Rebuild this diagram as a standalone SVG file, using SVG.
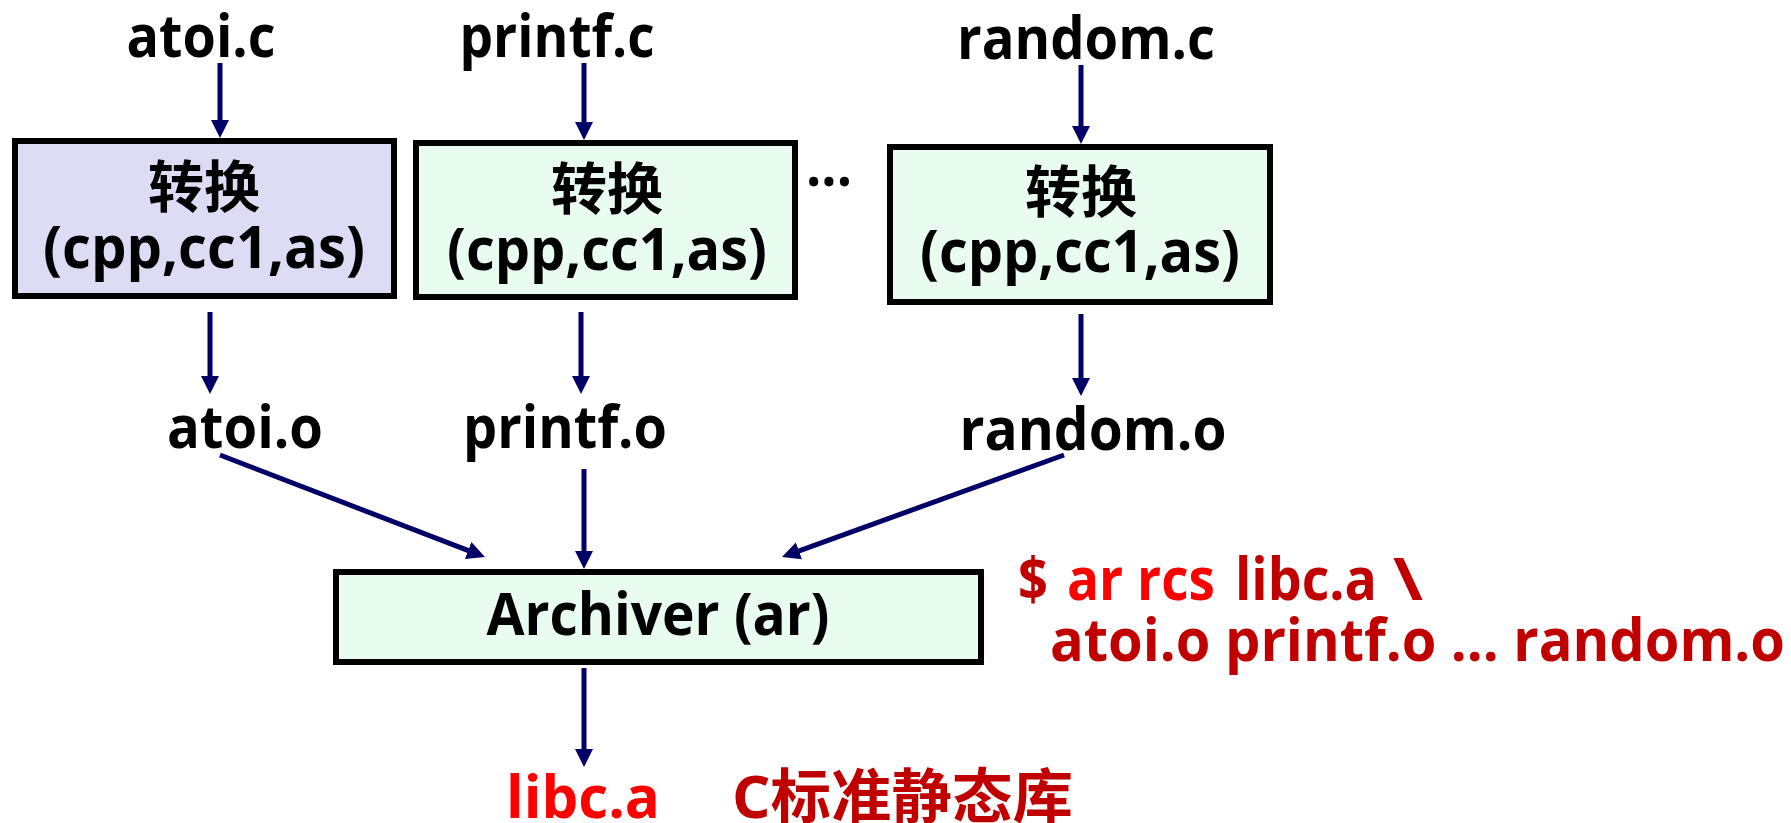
<svg xmlns="http://www.w3.org/2000/svg" width="1791" height="823" viewBox="0 0 1791 823">
<style>
text{font-family:"Open Sans","Noto Sans CJK SC",sans-serif;font-weight:bold;font-size:59px;fill:#000}
.cjk{font-family:"Noto Sans CJK SC",sans-serif;font-size:56px}
.c{text-anchor:middle}
.box{stroke:#000;stroke-width:6}
.lav{fill:#DCDCF4}
.mint{fill:#E8FCF0}
.ar{stroke:#000066;stroke-width:5;fill:none;marker-end:url(#ah)}
.red{fill:#FF0000}
.dred{fill:#C00000}
</style>
<defs>
<marker id="ah" markerUnits="userSpaceOnUse" markerWidth="20" markerHeight="20" refX="10" refY="9" orient="auto">
<path d="M0,0 L18,9 L0,18 z" fill="#000066"/>
</marker>
</defs>
<g id="src-atoi"><text class="c" x="201" y="57" textLength="149" lengthAdjust="spacingAndGlyphs">atoi.c</text></g>
<g id="src-printf"><text class="c" x="557" y="57" textLength="195" lengthAdjust="spacingAndGlyphs">printf.c</text></g>
<g id="src-random"><text class="c" x="1086" y="59" textLength="258" lengthAdjust="spacingAndGlyphs">random.c</text></g>
<g id="conv1"><rect class="box lav" x="15" y="141" width="379" height="155"/><text class="c cjk" x="204" y="207">转换</text><text class="c" x="204" y="268" textLength="322" lengthAdjust="spacingAndGlyphs">(cpp,cc1,as)</text></g>
<g id="conv2"><rect class="box mint" x="416" y="143" width="379" height="154"/><text class="c cjk" x="607" y="209">转换</text><text class="c" x="607" y="270" textLength="320" lengthAdjust="spacingAndGlyphs">(cpp,cc1,as)</text></g>
<g id="dots"><text x="806" y="186" textLength="46" lengthAdjust="spacingAndGlyphs">...</text></g>
<g id="conv3"><rect class="box mint" x="890" y="147" width="380" height="155"/><text class="c cjk" x="1081" y="212">转换</text><text class="c" x="1080" y="272" textLength="320" lengthAdjust="spacingAndGlyphs">(cpp,cc1,as)</text></g>
<g id="obj-atoi"><text class="c" x="245" y="448" textLength="156" lengthAdjust="spacingAndGlyphs">atoi.o</text></g>
<g id="obj-printf"><text class="c" x="565" y="448" textLength="204" lengthAdjust="spacingAndGlyphs">printf.o</text></g>
<g id="obj-random"><text class="c" x="1093" y="450" textLength="267" lengthAdjust="spacingAndGlyphs">random.o</text></g>
<g id="archiver"><rect class="box mint" x="336" y="572" width="645" height="90"/><text class="c" x="658" y="635" textLength="343" lengthAdjust="spacingAndGlyphs">Archiver (ar)</text></g>
<g id="cmd">
<text class="dred" x="1018" y="600" textLength="30" lengthAdjust="spacingAndGlyphs">$</text>
<text class="red" x="1067" y="600" textLength="148" lengthAdjust="spacingAndGlyphs">ar rcs</text>
<text class="dred" x="1235" y="600" textLength="142" lengthAdjust="spacingAndGlyphs">libc.a</text>
<text class="dred" x="1393" y="600" textLength="30" lengthAdjust="spacingAndGlyphs">\</text>
<text class="dred" x="1050" y="661" textLength="735" lengthAdjust="spacingAndGlyphs">atoi.o printf.o ... random.o</text>
</g>
<g id="libc"><text class="red" x="506" y="818" textLength="154" lengthAdjust="spacingAndGlyphs">libc.a</text><text class="dred" x="732" y="818" font-size="60" textLength="341" lengthAdjust="spacingAndGlyphs">C标准静态库</text></g>
<g id="connectors">
<line class="ar" x1="220" y1="63" x2="220" y2="130"/>
<line class="ar" x1="584" y1="63" x2="584" y2="132"/>
<line class="ar" x1="1081" y1="65" x2="1081" y2="136"/>
<line class="ar" x1="210" y1="312" x2="210" y2="386"/>
<line class="ar" x1="581" y1="312" x2="581" y2="386"/>
<line class="ar" x1="1081" y1="314" x2="1081" y2="388"/>
<line class="ar" x1="220" y1="455" x2="477.5" y2="554.1"/>
<line class="ar" x1="584" y1="469" x2="584" y2="561"/>
<line class="ar" x1="1064" y1="455" x2="789.5" y2="554.3"/>
<line class="ar" x1="584" y1="668" x2="584" y2="759"/>
</g>
</svg>
